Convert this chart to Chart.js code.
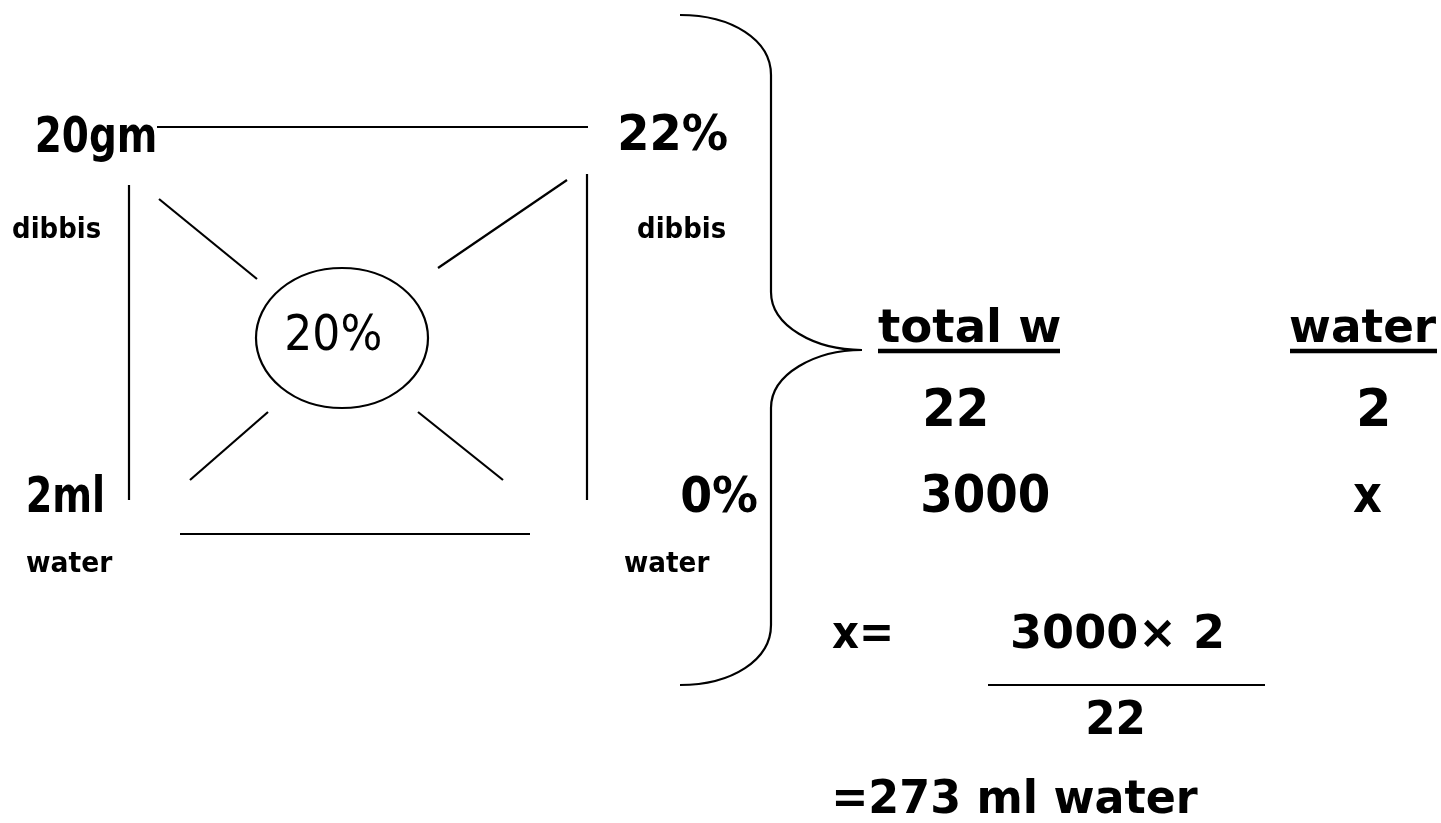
<!DOCTYPE html>
<html>
<head>
<meta charset="utf-8">
<script src="https://cdn.jsdelivr.net/npm/chart.js@4/dist/chart.umd.min.js"></script>
<style>
  html, body { margin: 0; padding: 0; background: #ffffff; }
  #wrap { width: 1441px; height: 823px; position: relative; }
</style>
</head>
<body>
<div id="wrap"><canvas id="c"></canvas></div>
<script>
// ---- content (texts) ----
const labelText = ['20gm', '22%', 'dibbis', 'dibbis', '20%', '2ml', '0%', 'water', 'water',
  'total w', 'water', '22', '2', '3000', 'x', 'x=', '3000\u00d7 2', '22', '=273 ml water'];
// ---- label anchors (left edge of ink, baseline) in diagram units ----
const labelX = [37, 620, 13, 638, 287, 28, 682, 27, 625, 878, 1290, 926, 1360, 923, 1353, 832, 1013, 1088, 835];
const labelY = [152, 150, 238, 238, 350, 512, 512, 572, 572, 342, 342, 426, 426, 512, 512, 648, 648, 734, 813];
// ---- label ink widths in diagram units ----
const labelW = [118, 107, 87, 87, 93, 74, 75, 86, 85, 182, 147, 60, 28, 126, 29, 58, 209, 55, 363];
// ---- label style keys ----
const labelStyle = ['big', 'big', 'small', 'small', 'plain', 'big', 'big', 'small', 'small',
  'head', 'head', 'table', 'table', 'table', 'table', 'calc', 'calc', 'calc', 'calc'];

// ---- straight strokes: x1, y1, x2, y2 ----
const segX1 = [157, 129, 587, 159, 567, 268, 418, 180, 988];
const segY1 = [127, 185, 174, 199, 180, 412, 412, 534, 685];
const segX2 = [588, 129, 587, 257, 438, 190, 503, 530, 1265];
const segY2 = [127, 500, 500, 279, 268, 480, 480, 534, 685];
// ---- underlines of the table headers ----
const ulX1 = [878, 1290];
const ulX2 = [1060, 1437];
const ulY = [351, 351];

// ---- ellipse round "20%" ----
const ellipseCX = [342];
const ellipseCY = [338];
const ellipseRX = [86];
const ellipseRY = [70];

// ---- curly brace: start point then cubic segments (c1x,c1y,c2x,c2y,x,y) or lines (x,y) ----
const braceStart = [680, 15];
const braceSteps = [
  ['C', 732, 15, 771, 40, 771, 75],
  ['L', 771, 292],
  ['C', 771, 326, 815, 350, 862, 350],
  ['C', 815, 350, 771, 374, 771, 408],
  ['L', 771, 625],
  ['C', 771, 660, 732, 685, 680, 685]
];

const styles = {
  big:   { weight: 'bold',   size: 50, family: '"DejaVu Sans", sans-serif' },
  small: { weight: 'bold',   size: 29, family: '"DejaVu Sans", sans-serif' },
  plain: { weight: 'normal', size: 50, family: '"DejaVu Sans", sans-serif' },
  head:  { weight: 'bold',   size: 47, family: '"DejaVu Sans", sans-serif' },
  table: { weight: 'bold',   size: 51, family: '"DejaVu Sans", sans-serif' },
  calc:  { weight: 'bold',   size: 46, family: '"DejaVu Sans", sans-serif' }
};

const datasets = [];
for (let i = 0; i < segX1.length; i++) {
  datasets.push({
    data: [{ x: segX1[i], y: segY1[i] }, { x: segX2[i], y: segY2[i] }],
    showLine: true, borderColor: '#000', borderWidth: 2.2, pointRadius: 0, fill: false
  });
}
for (let i = 0; i < ulX1.length; i++) {
  datasets.push({
    data: [{ x: ulX1[i], y: ulY[i] }, { x: ulX2[i], y: ulY[i] }],
    showLine: true, borderColor: '#000', borderWidth: 4.5, pointRadius: 0, fill: false
  });
}

const drawingPlugin = {
  id: 'diagram',
  afterDatasetsDraw(chart) {
    const ctx = chart.ctx;
    const xs = chart.scales.x, ys = chart.scales.y;
    const px = v => xs.getPixelForValue(v);
    const py = v => ys.getPixelForValue(v);
    ctx.save();
    ctx.strokeStyle = '#000';
    ctx.lineWidth = 2.2;
    // ellipse
    for (let i = 0; i < ellipseCX.length; i++) {
      const cx = px(ellipseCX[i]), cy = py(ellipseCY[i]);
      const rx = Math.abs(px(ellipseCX[i] + ellipseRX[i]) - cx);
      const ry = Math.abs(py(ellipseCY[i] + ellipseRY[i]) - cy);
      ctx.beginPath();
      ctx.ellipse(cx, cy, rx, ry, 0, 0, Math.PI * 2);
      ctx.stroke();
    }
    // brace
    ctx.beginPath();
    ctx.moveTo(px(braceStart[0]), py(braceStart[1]));
    braceSteps.forEach(s => {
      if (s[0] === 'C') ctx.bezierCurveTo(px(s[1]), py(s[2]), px(s[3]), py(s[4]), px(s[5]), py(s[6]));
      else ctx.lineTo(px(s[1]), py(s[2]));
    });
    ctx.stroke();
    // labels
    ctx.fillStyle = '#000';
    ctx.textAlign = 'left';
    ctx.textBaseline = 'alphabetic';
    for (let i = 0; i < labelText.length; i++) {
      const st = styles[labelStyle[i]];
      ctx.font = `${st.weight} ${st.size}px ${st.family}`;
      const m = ctx.measureText(labelText[i]);
      const ink = m.actualBoundingBoxRight + m.actualBoundingBoxLeft;
      const target = px(labelX[i] + labelW[i]) - px(labelX[i]);
      const sx = target / ink;
      ctx.save();
      ctx.translate(px(labelX[i]), py(labelY[i]));
      ctx.scale(sx, 1);
      ctx.fillText(labelText[i], m.actualBoundingBoxLeft, 0);
      ctx.restore();
    }
    ctx.restore();
  }
};

new Chart(document.getElementById('c'), {
  type: 'scatter',
  data: { datasets },
  options: {
    responsive: true,
    maintainAspectRatio: false,
    animation: false,
    layout: { padding: 0 },
    plugins: { legend: { display: false }, tooltip: { enabled: false } },
    elements: { line: { tension: 0 } },
    scales: {
      x: { type: 'linear', min: 0, max: 1441, display: false },
      y: { type: 'linear', min: 0, max: 823, reverse: true, display: false }
    }
  },
  plugins: [drawingPlugin]
});
</script>
</body>
</html>
